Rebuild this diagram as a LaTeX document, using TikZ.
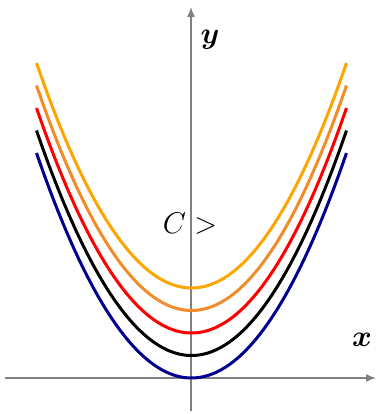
\documentclass[tikz,border=0pt]{standalone}
\usetikzlibrary{arrows.meta}

\definecolor{cnavy}{RGB}{0,0,145}
\definecolor{corange}{RGB}{242,140,40}
\definecolor{camber}{RGB}{255,165,0}

\tikzset{
  axis/.style={gray,line width=.55pt,-{Latex[length=4pt,width=3.2pt]}},
  curve/.style={line width=1.2pt,smooth,samples=60},
}

\begin{document}
\begin{tikzpicture}[x=.4pt,y=.4pt,font=\large]
\useasboundingbox (0,0) rectangle (377,414);
% axes
\draw[axis] (5,36) -- (376,36);
\draw[axis] (191,3) -- (191,407);
\node[font=\large\boldmath] (ylab) at (210,374) {$y$};
\node[font=\large\boldmath] (xlab) at (362,74) {$x$};
% family y = x^2 + C
\foreach \c/\col in {0/cnavy,1/black,2/red,3/corange,4/camber}
  \draw[curve,\col,domain=-155:155] plot ({191.5+\x},{36+22.5*\c+225*(\x/155)^2});
\node (clab) at (190,190) {$C>$};
\end{tikzpicture}
\end{document}
